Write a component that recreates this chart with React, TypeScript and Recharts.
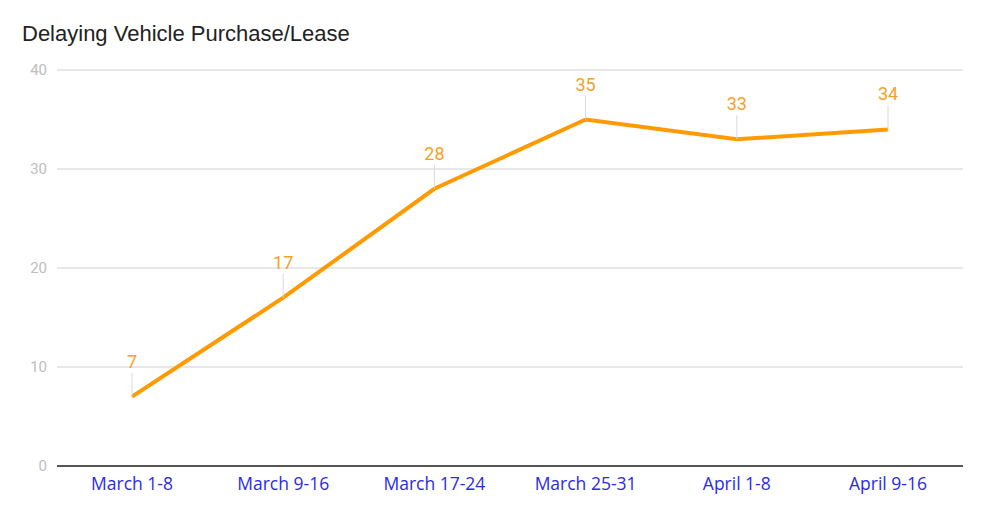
import { LineChart, Line, XAxis, YAxis, CartesianGrid } from 'recharts';

const weeks = ['March 1-8', 'March 9-16', 'March 17-24', 'March 25-31', 'April 1-8', 'April 9-16'];
const delaying = [7, 17, 28, 35, 33, 34];
const yTicks = [0, 10, 20, 30, 40];

const data = weeks.map((w, i) => ({ week: w, value: delaying[i] }));

const renderLabel = (props: any) => {
  const { x, y, value } = props;
  return (
    <g>
      <line x1={x} y1={y} x2={x} y2={y - 24} stroke="#d9d9d9" strokeWidth={1} />
      <text
        x={x}
        y={y - 29}
        textAnchor="middle"
        fill="#f4a12a"
        fontSize={18}
        fontFamily="Roboto, Arial, sans-serif"
      >
        {value}
      </text>
    </g>
  );
};

export default function App() {
  return (
    <div style={{ position: 'absolute', left: 0, top: 0, width: 983, height: 514, background: '#fff' }}>
      <div
        style={{
          position: 'absolute',
          left: 22,
          top: 21,
          fontFamily: 'Arial, "Liberation Sans", sans-serif',
          fontSize: 22,
          color: '#222',
        }}
      >
        Delaying Vehicle Purchase/Lease
      </div>
      <LineChart width={983} height={514} data={data} margin={{ top: 70, right: 20, bottom: 18, left: 0 }}>
        <CartesianGrid vertical={false} stroke="#d0d0d0" strokeWidth={1} />
        <XAxis
          dataKey="week"
          height={30}
          padding={{ left: 75, right: 75 }}
          axisLine={{ stroke: '#555', strokeWidth: 2 }}
          tickLine={false}
          tick={{ fill: '#2a2aee', fontSize: 17.5, fontFamily: '"Open Sans", sans-serif' }}
          dy={4}
        />
        <YAxis
          width={57}
          domain={[0, 40]}
          ticks={yTicks}
          axisLine={false}
          tickLine={false}
          tick={{ fill: '#bdbdbd', fontSize: 15, fontFamily: 'Roboto, sans-serif' }}
          dx={-2}
        />
        <Line
          type="linear"
          dataKey="value"
          stroke="#ff9a00"
          strokeWidth={4}
          dot={false}
          isAnimationActive={false}
          label={renderLabel}
        />
      </LineChart>
    </div>
  );
}
